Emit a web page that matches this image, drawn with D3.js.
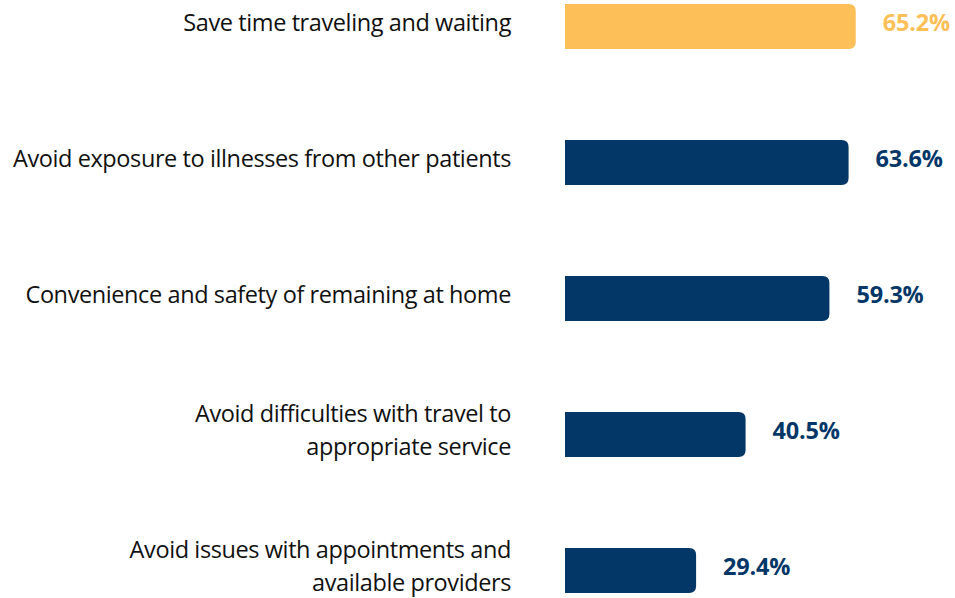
<!DOCTYPE html>
<html>
<head>
<meta charset="utf-8">
<script src="https://cdn.jsdelivr.net/npm/d3@7"></script>
<style>
  html, body { margin: 0; padding: 0; background: #fff; }
  svg { display: block; }
</style>
</head>
<body>
<div id="chart"></div>
<script>
// data
const categories = [
  ["Save time traveling and waiting"],
  ["Avoid exposure to illnesses from other patients"],
  ["Convenience and safety of remaining at home"],
  ["Avoid difficulties with travel to", "appropriate service"],
  ["Avoid issues with appointments and", "available providers"]
];
const values = [65.2, 63.6, 59.3, 40.5, 29.4];
const highlight = [true, false, false, false, false];

const W = 955, H = 598;
const navy = "#033767", gold = "#fdbf57";
const labelFont = "'Open Sans', 'Noto Sans', sans-serif";

const svg = d3.select("#chart").append("svg")
  .attr("width", W)
  .attr("height", H);

const xScale = d3.scaleLinear()
  .domain([0, 100])
  .range([565, 565 + 445.9]);

const yScale = d3.scaleBand()
  .domain(d3.range(values.length))
  .range([4, 593])
  .paddingInner(0.669)
  .paddingOuter(0);

// bar with rounded right end only
const barPath = (x0, x1, y, h, r) =>
  `M${x0},${y}H${x1 - r}Q${x1},${y} ${x1},${y + r}V${y + h - r}Q${x1},${y + h} ${x1 - r},${y + h}H${x0}Z`;

const rows = values.map((v, i) => ({v, i, lines: categories[i], hi: highlight[i]}));

svg.selectAll("path.bar")
  .data(rows)
  .join("path")
    .attr("class", "bar")
    .attr("d", d => barPath(xScale(0), xScale(d.v), yScale(d.i), yScale.bandwidth(), 7))
    .attr("fill", d => d.hi ? gold : navy);

// value labels
svg.selectAll("text.val")
  .data(rows)
  .join("text")
    .attr("class", "val")
    .attr("x", d => xScale(d.v) + 27)
    .attr("y", d => yScale(d.i) + yScale.bandwidth() / 2 - 4)
    .attr("dy", "0.35em")
    .attr("font-family", labelFont)
    .attr("font-weight", 700)
    .attr("font-size", 23.5)
    .attr("letter-spacing", "-0.2")
    .attr("fill", d => d.hi ? gold : navy)
    .text(d => d.v.toFixed(1) + "%");

// category labels, right aligned
const lineGap = 33;
const cats = svg.selectAll("text.cat")
  .data(rows)
  .join("text")
    .attr("class", "cat")
    .attr("text-anchor", "end")
    .attr("font-family", labelFont)
    .attr("font-size", 23.5)
    .attr("letter-spacing", "-0.4")
    .attr("fill", "#111");

cats.each(function(d) {
  const mid = yScale(d.i) + yScale.bandwidth() / 2 - 4;
  const start = mid - (d.lines.length - 1) * lineGap / 2;
  d3.select(this).selectAll("tspan")
    .data(d.lines)
    .join("tspan")
      .attr("x", 511)
      .attr("y", (t, k) => start + k * lineGap)
      .attr("dy", "0.35em")
      .text(t => t);
});
</script>
</body>
</html>
